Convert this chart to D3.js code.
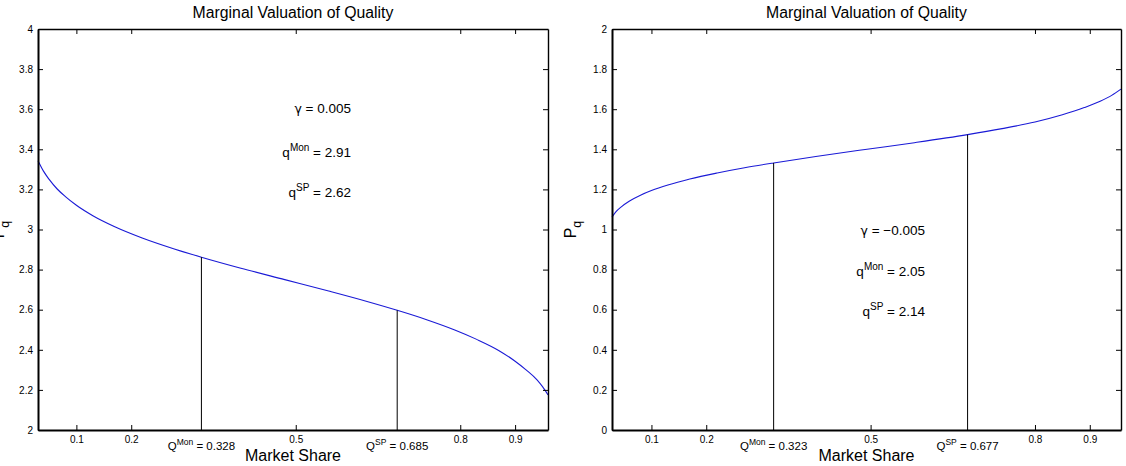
<!DOCTYPE html>
<html>
<head>
<meta charset="utf-8">
<script src="https://cdn.jsdelivr.net/npm/d3@7/dist/d3.min.js"></script>
<style>
  body { margin: 0; background: #fff; }
  svg { display: block; font-family: "Liberation Sans", Arial, Helvetica, sans-serif; }
</style>
</head>
<body>
<svg id="chart" width="1126" height="466"></svg>
<script>
// ---------- data ----------
const xTickValues = [0.1, 0.2, 0.5, 0.8, 0.9];
const leftYTicks = [2, 2.2, 2.4, 2.6, 2.8, 3, 3.2, 3.4, 3.6, 3.8, 4];
const rightYTicks = [0, 0.2, 0.4, 0.6, 0.8, 1, 1.2, 1.4, 1.6, 1.8, 2];

const leftShare = [0.030, 0.040, 0.050, 0.065, 0.080, 0.100, 0.130, 0.170, 0.220, 0.280, 0.328, 0.400, 0.480, 0.560, 0.630, 0.685, 0.740, 0.790, 0.830, 0.870, 0.900, 0.920, 0.940, 0.950, 0.960];
const leftPq    = [3.343, 3.291, 3.251, 3.202, 3.164, 3.121, 3.069, 3.014, 2.958, 2.902, 2.862, 2.807, 2.750, 2.693, 2.641, 2.597, 2.549, 2.499, 2.452, 2.397, 2.343, 2.300, 2.250, 2.216, 2.175];

const rightShare = [0.028, 0.035, 0.045, 0.060, 0.080, 0.100, 0.130, 0.170, 0.220, 0.270, 0.323, 0.400, 0.490, 0.580, 0.677, 0.740, 0.800, 0.850, 0.890, 0.920, 0.940, 0.957];
const rightPq    = [1.062, 1.088, 1.113, 1.142, 1.171, 1.194, 1.222, 1.252, 1.282, 1.308, 1.332, 1.364, 1.399, 1.433, 1.473, 1.503, 1.536, 1.572, 1.608, 1.641, 1.669, 1.700];

const leftMarkShares = [0.328, 0.685];
const leftMarkNames = ["Mon", "SP"];
const leftMarkLabels = ["0.328", "0.685"];
const rightMarkShares = [0.323, 0.677];
const rightMarkNames = ["Mon", "SP"];
const rightMarkLabels = ["0.323", "0.677"];

const leftGamma = "0.005";
const leftQValues = ["2.91", "2.62"];
const rightGamma = "\u22120.005";
const rightQValues = ["2.05", "2.14"];

const titleText = "Marginal Valuation of Quality";
const xLabelText = "Market Share";

// ---------- drawing ----------
const svg = d3.select("#chart");

function interp(xs, ys, x) {
  for (let i = 0; i < xs.length - 1; i++) {
    if (x >= xs[i] && x <= xs[i + 1]) {
      const t = (x - xs[i]) / (xs[i + 1] - xs[i]);
      return ys[i] + t * (ys[i + 1] - ys[i]);
    }
  }
  return ys[ys.length - 1];
}

function panel(opt) {
  const x = d3.scaleLinear().domain(opt.xDomain).range([opt.x0, opt.x1]);
  const y = d3.scaleLinear().domain(opt.yDomain).range([opt.y1, opt.y0]);
  const g = svg.append("g");

  // curve
  g.append("path")
    .datum(opt.share.map((s, i) => [s, opt.pq[i]]))
    .attr("fill", "none")
    .attr("stroke", "#1a1ad6")
    .attr("stroke-width", 1.1)
    .attr("d", d3.line().x(d => x(d[0])).y(d => y(d[1])).curve(d3.curveMonotoneX));

  // vertical marker lines
  opt.marks.forEach((m) => {
    g.append("line")
      .attr("x1", x(m)).attr("x2", x(m))
      .attr("y1", y(opt.yDomain[0])).attr("y2", y(interp(opt.share, opt.pq, m)))
      .attr("stroke", "#000").attr("stroke-width", 1);
  });

  // axes (box with inward ticks)
  const tick = 5;
  const axB = d3.axisBottom(x).tickValues(xTickValues).tickSizeInner(-tick).tickSizeOuter(0).tickPadding(6).tickFormat(d => String(d));
  const axT = d3.axisTop(x).tickValues(xTickValues).tickSizeInner(-tick).tickSizeOuter(0).tickFormat("");
  const axL = d3.axisLeft(y).tickValues(opt.yTicks).tickSizeInner(-tick).tickSizeOuter(0).tickPadding(5).tickFormat(d => String(d));
  const axR = d3.axisRight(y).tickValues(opt.yTicks).tickSizeInner(-tick).tickSizeOuter(0).tickFormat("");

  const gb = g.append("g").attr("transform", `translate(0,${opt.y1})`).call(axB);
  const gt = g.append("g").attr("transform", `translate(0,${opt.y0})`).call(axT);
  const gl = g.append("g").attr("transform", `translate(${opt.x0},0)`).call(axL);
  const gr = g.append("g").attr("transform", `translate(${opt.x1},0)`).call(axR);
  [gb, gt, gl, gr].forEach(a => {
    a.select(".domain").attr("stroke", "#000").attr("stroke-width", 1.4);
    a.selectAll(".tick line").attr("stroke", "#000").attr("stroke-width", 1);
    a.selectAll("text").attr("font-family", "Liberation Sans, Arial, sans-serif").attr("font-size", 10).attr("fill", "#000");
  });
  gb.select(".domain").attr("stroke-width", 2);
  gl.select(".domain").attr("stroke-width", 2);

  // title
  g.append("text")
    .attr("x", (opt.x0 + opt.x1) / 2).attr("y", 18)
    .attr("text-anchor", "middle").attr("font-size", 15.8).attr("fill", "#000")
    .text(titleText);

  // x label
  g.append("text")
    .attr("x", (opt.x0 + opt.x1) / 2).attr("y", 461)
    .attr("text-anchor", "middle").attr("font-size", 16).attr("fill", "#000")
    .text(xLabelText);

  // Q labels under marker lines
  opt.marks.forEach((m, i) => {
    const t = g.append("text")
      .attr("x", x(m)).attr("y", 450)
      .attr("text-anchor", "middle").attr("font-size", 11.5).attr("fill", "#000");
    t.append("tspan").text("Q");
    t.append("tspan").attr("dy", -5).attr("font-size", 8.5).text(opt.markNames[i]);
    t.append("tspan").attr("dy", 5).text(" = " + opt.markLabels[i]);
  });

  // y label P_q
  const yl = g.append("text")
    .attr("transform", `translate(${opt.yLabelX},${(opt.y0 + opt.y1) / 2}) rotate(-90)`)
    .attr("text-anchor", "middle").attr("font-size", 16).attr("fill", "#000");
  yl.append("tspan").text("P");
  yl.append("tspan").attr("dy", 5).attr("font-size", 12.5).text("q");

  // annotations
  const ax = opt.annX;
  const gt1 = g.append("text").attr("x", ax).attr("y", opt.annY[0]).attr("text-anchor", "end")
    .attr("font-size", 13.5).attr("fill", "#000");
  gt1.append("tspan").attr("font-family", "DejaVu Sans, sans-serif").attr("font-size", 12.5).text("\u03b3");
  gt1.append("tspan").text(" = " + opt.gamma);
  ["Mon", "SP"].forEach((nm, i) => {
    const t = g.append("text").attr("x", ax).attr("y", opt.annY[i + 1]).attr("text-anchor", "end")
      .attr("font-size", 13.5).attr("fill", "#000");
    t.append("tspan").text("q");
    t.append("tspan").attr("dy", -6).attr("font-size", 10).text(nm);
    t.append("tspan").attr("dy", 6).text(" = " + opt.qValues[i]);
  });
}

panel({
  x0: 38, x1: 548, y0: 29, y1: 430,
  xDomain: [0.03, 0.96], yDomain: [2, 4], yTicks: leftYTicks,
  share: leftShare, pq: leftPq,
  marks: leftMarkShares, markNames: leftMarkNames, markLabels: leftMarkLabels,
  yLabelX: 4, annX: 351, annY: [113, 157, 197],
  gamma: leftGamma, qValues: leftQValues
});

panel({
  x0: 612, x1: 1121, y0: 29, y1: 430,
  xDomain: [0.028, 0.957], yDomain: [0, 2], yTicks: rightYTicks,
  share: rightShare, pq: rightPq,
  marks: rightMarkShares, markNames: rightMarkNames, markLabels: rightMarkLabels,
  yLabelX: 576, annX: 925, annY: [235, 276, 316],
  gamma: rightGamma, qValues: rightQValues
});
</script>
</body>
</html>
